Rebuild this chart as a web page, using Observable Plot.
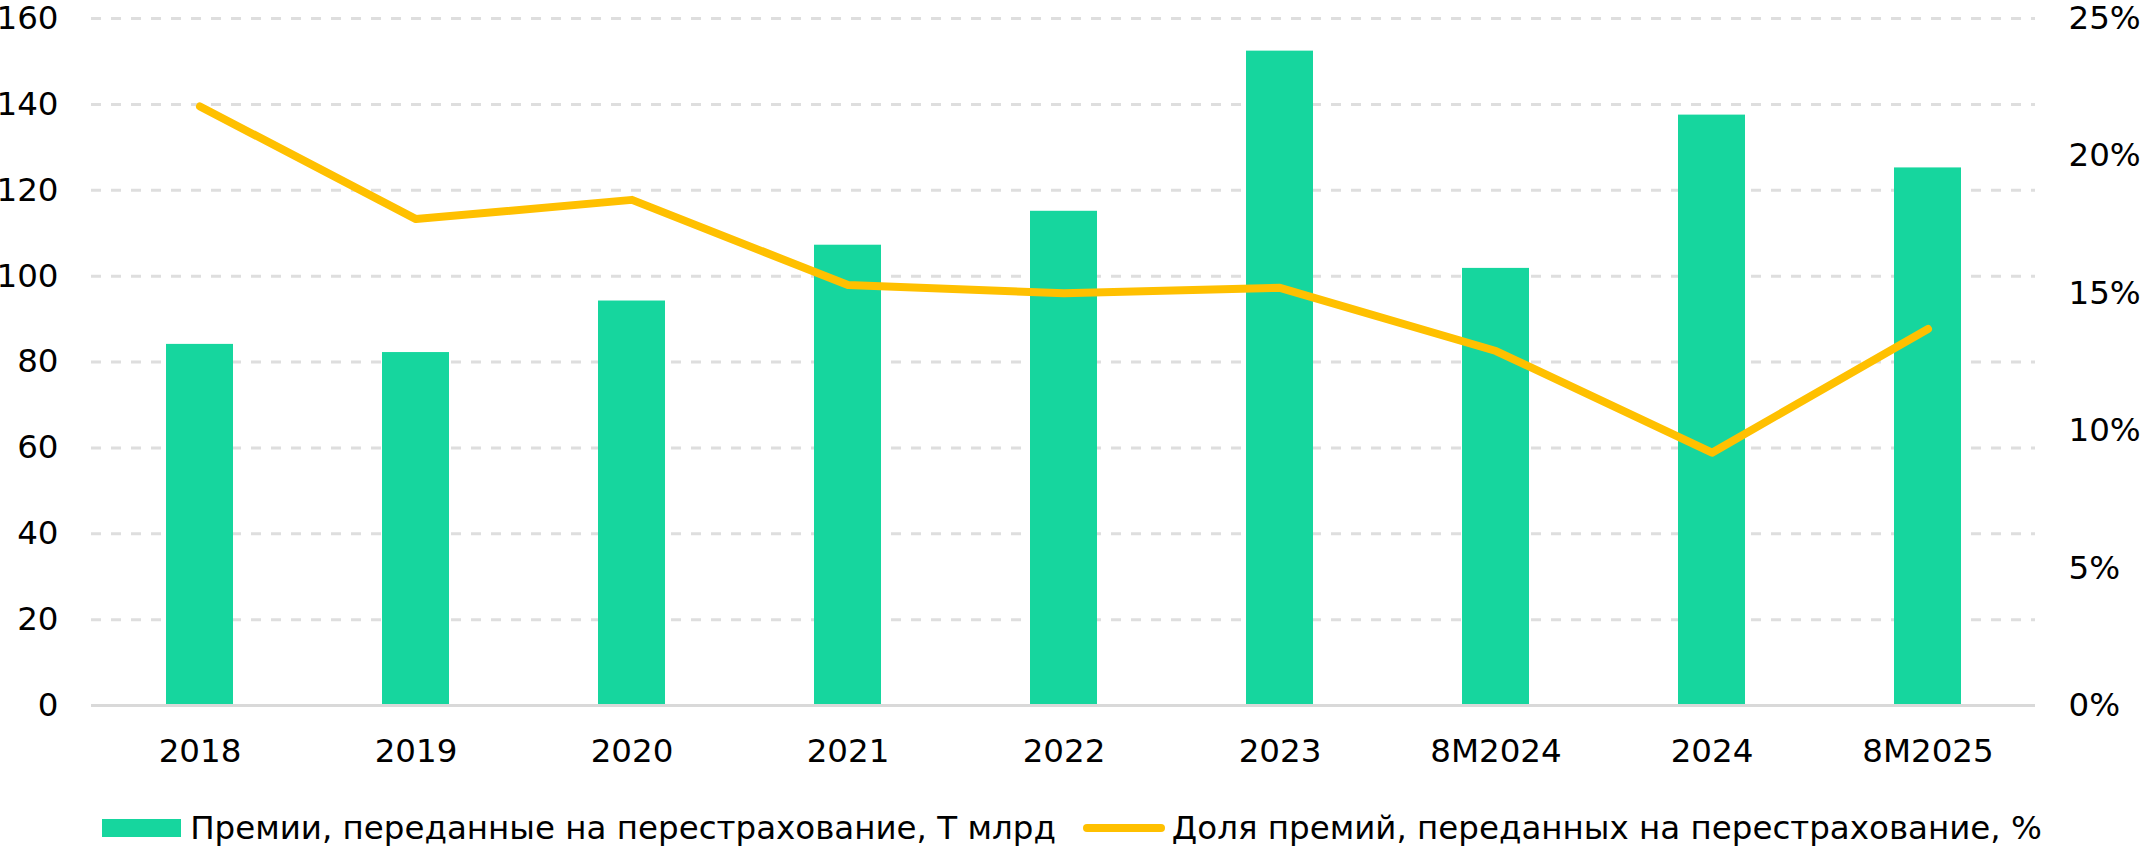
<!DOCTYPE html>
<html>
<head>
<meta charset="utf-8">
<script src="https://cdn.jsdelivr.net/npm/d3@7"></script>
<script src="https://cdn.jsdelivr.net/npm/@observablehq/plot@0.6"></script>
<style>
  html, body { margin: 0; padding: 0; background: #fff; }
  body { width: 2144px; height: 847px; position: relative; overflow: hidden; font-family: "DejaVu Sans", sans-serif; }
  #chart svg { display: block; }
  #legend { position: absolute; left: 0; top: 808px; width: 2144px; height: 40px; display: flex; justify-content: center; align-items: center; font-size: 32.5px; color: #000; white-space: nowrap; }
  .item { display: flex; align-items: center; }
  .sw-bar { width: 79px; height: 18px; background: #16D69E; margin-right: 9px; }
  .sw-line { width: 82px; height: 8px; border-radius: 4px; background: #FFC000; margin-right: 7px; margin-left: 27px; }
</style>
</head>
<body>
<div id="chart"></div>
<div id="legend">
  <div class="item"><div class="sw-bar"></div><span>Премии, переданные на перестрахование, Т млрд</span></div>
  <div class="item"><div class="sw-line"></div><span>Доля премий, переданных на перестрахование, %</span></div>
</div>
<script>
const categories = ["2018", "2019", "2020", "2021", "2022", "2023", "8M2024", "2024", "8M2025"];
const premiums = [84.1, 82.2, 94.2, 107.2, 115.1, 152.4, 101.8, 137.5, 125.2];
const shares = [21.8, 17.7, 18.4, 15.3, 15.0, 15.2, 12.9, 9.2, 13.7];
const leftTicks = [0, 20, 40, 60, 80, 100, 120, 140, 160];
const rightTicks = [0, 5, 10, 15, 20, 25];
const leftMax = 160, rightMax = 25;

const k = leftMax / rightMax;
const data = categories.map((c, i) => ({cat: c, prem: premiums[i], share: shares[i]}));

const chart = Plot.plot({
  width: 2144,
  height: 790,
  marginLeft: 91,
  marginRight: 109,
  marginTop: 18,
  marginBottom: 85,
  style: {fontFamily: "DejaVu Sans, sans-serif", fontSize: "32.5px", color: "#000", background: "#fff", overflow: "visible"},
  x: {type: "band", domain: categories, paddingInner: 0.69, paddingOuter: 0.345},
  y: {domain: [0, leftMax]},
  marks: [
    Plot.gridY(leftTicks.filter(d => d > 0), {stroke: "#dedede", strokeOpacity: 1, strokeWidth: 3, strokeDasharray: "10,10"}),
    Plot.barY(data, {x: "cat", y: "prem", fill: "#16D69E"}),
    Plot.ruleY([0], {stroke: "#d9d9d9", strokeWidth: 3}),
    Plot.line(data, {x: "cat", y: d => d.share * k, stroke: "#FFC000", strokeWidth: 8, strokeLinecap: "round", strokeLinejoin: "round"}),
    Plot.axisX({tickSize: 0, tickPadding: 33, label: null, fontSize: 32.5}),
    Plot.axisY({anchor: "left", ticks: leftTicks, tickSize: 0, tickPadding: 33, label: null, fontSize: 32.5}),
    Plot.axisY({anchor: "right", ticks: rightTicks.map(d => d * k), tickFormat: d => Math.round(d / k) + "%", tickSize: 0, tickPadding: 33, label: null, fontSize: 32.5, textAnchor: "start"})
  ]
});
document.getElementById("chart").appendChild(chart);
</script>
</body>
</html>
